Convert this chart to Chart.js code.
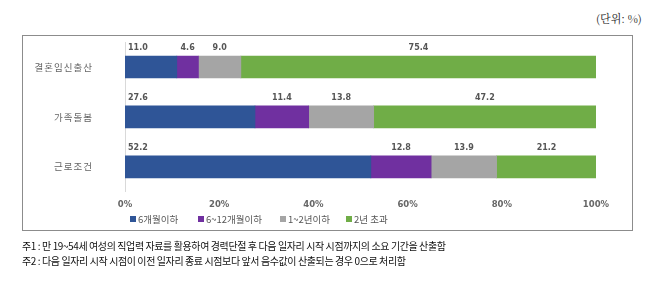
<!DOCTYPE html>
<html>
<head>
<meta charset="utf-8">
<script src="https://cdn.jsdelivr.net/npm/chart.js@4"></script>
<style>
  body { margin: 0; background: #fff; font-family: "Noto Sans CJK KR", sans-serif; }
  #unit { position: absolute; left: 596px; top: 10px; font-size: 11px; color: #222; font-family: "Noto Serif CJK KR", "Noto Sans CJK KR", serif; }
  #box { position: absolute; left: 22px; top: 35px; width: 609px; height: 194px; border: 1px solid #8c8c8c; }
  #legend { position: absolute; left: 0; top: 212px; width: 658px; height: 14px; font-size: 9.5px; color: #555; white-space: nowrap; }
  #legend span { position: absolute; top: 0; }
  #legend i { display: inline-block; width: 6px; height: 6px; margin-right: 2px; vertical-align: 1px; }
  #note { position: absolute; left: 22px; top: 238px; font-size: 10px; line-height: 15px; color: #111; letter-spacing: -0.4px; }
</style>
</head>
<body>
<div id="unit">(단위: %)</div>
<div id="box"><canvas id="chart1" width="609" height="194"></canvas></div>
<div id="legend"></div>
<div id="note">
  주1 : 만 19~54세 여성의 직업력 자료를 활용하여 경력단절 후 다음 일자리 시작 시점까지의 소요 기간을 산출함<br>
  주2 : 다음 일자리 시작 시점이 이전 일자리 종료 시점보다 앞서 음수값이 산출되는 경우 0으로 처리함
</div>
<script>
  // categories and series values (%)
  const categories = ['결혼임신출산', '가족돌봄', '근로조건'];
  const seriesNames = ['6개월이하', '6~12개월이하', '1~2년이하', '2년 초과'];
  const under6m = [11.0, 27.6, 52.2];
  const m6to12 = [4.6, 11.4, 12.8];
  const y1to2 = [9.0, 13.8, 13.9];
  const over2y = [75.4, 47.2, 21.2];
  const xTicks = [0, 20, 40, 60, 80, 100];

  const colors = ['#2F5597', '#7030A0', '#A5A5A5', '#70AD47'];
  const legendLeft = [130, 198, 280, 346];

  // legend in html so it sits where the original has it
  document.getElementById('legend').innerHTML = seriesNames
    .map((n, i) => `<span style="left:${legendLeft[i]}px"><i style="background:${colors[i]}"></i>${n}</span>`).join('');

  // value labels above each segment, category labels left of the axis
  const labelsPlugin = {
    id: 'labelsPlugin',
    afterDatasetsDraw(chart) {
      const ctx = chart.ctx;
      ctx.save();
      ctx.font = 'bold 8px "DejaVu Sans", sans-serif';
      ctx.fillStyle = '#555';
      ctx.textBaseline = 'bottom';
      chart.data.datasets.forEach((ds, i) => {
        chart.getDatasetMeta(i).data.forEach((bar, j) => {
          const txt = ds.data[j].toFixed(1);
          const top = bar.y - bar.height / 2 - 4;
          if (i === 0) {
            ctx.textAlign = 'left';
            ctx.fillText(txt, bar.base + 3, top);
          } else {
            ctx.textAlign = 'center';
            ctx.fillText(txt, (bar.base + bar.x) / 2, top);
          }
        });
      });

      const y = chart.scales.y;
      ctx.font = '9.5px "Noto Sans CJK KR", sans-serif';
      ctx.letterSpacing = '1px';
      ctx.fillStyle = '#666';
      ctx.textAlign = 'right';
      ctx.textBaseline = 'middle';
      categories.forEach((c, j) => {
        ctx.fillText(c, chart.chartArea.left - 32, y.getPixelForValue(j));
      });
      ctx.restore();
    }
  };

  const ctx = document.getElementById('chart1').getContext('2d');
  new Chart(ctx, {
    type: 'bar',
    data: {
      labels: categories,
      datasets: [under6m, m6to12, y1to2, over2y].map((d, i) => ({
        label: seriesNames[i],
        data: d,
        backgroundColor: colors[i],
        barThickness: 22
      }))
    },
    options: {
      indexAxis: 'y',
      responsive: false,
      animation: false,
      layout: { padding: { left: 0, right: 36, top: 6, bottom: 12 } },
      scales: {
        x: {
          stacked: true,
          min: 0,
          max: 100,
          afterBuildTicks: (s) => { s.ticks = xTicks.map(v => ({ value: v })); },
          grid: { display: false, drawTicks: false },
          border: { display: false },
          ticks: {
            padding: 8,
            color: '#666',
            font: { size: 8.5, weight: 'bold', family: '"DejaVu Sans", sans-serif' },
            callback: (v) => v + '%'
          }
        },
        y: {
          stacked: true,
          afterFit: (s) => { s.width = 102; },
          grid: { display: false, drawTicks: false },
          border: { display: true, color: '#d9d9d9' },
          ticks: { display: false }
        }
      },
      plugins: {
        legend: { display: false },
        tooltip: { enabled: false }
      }
    },
    plugins: [labelsPlugin]
  });
</script>
</body>
</html>
